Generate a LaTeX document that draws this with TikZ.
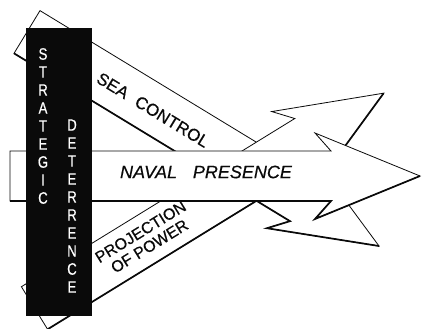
\documentclass[tikz,border=0pt]{standalone}
\usepackage{fontspec}
\setmainfont{Liberation Sans}
\newfontfamily\narrowsf[FakeStretch=0.8, FakeBold=0.6]{Liberation Sans}
\newfontfamily\labelsf[FakeBold=0.4]{Liberation Sans}
\usepackage{tikz}
\usetikzlibrary{calc}
\definecolor{inkblack}{RGB}{10, 10, 10}

% one broad arrow: tail middle (#1,#2), angle #3, length #4
\newcommand{\bandarrow}[4]{%
  \begin{scope}[shift={(#1,#2)}, rotate=#3]
    \filldraw[band] (0,25) -- ({#4-89},25) -- ({#4-105},43) -- (#4,0) -- ({#4-105},-43) -- ({#4-89},-25) -- (0,-25) -- cycle;
    \draw[bandshade] (#4,0) -- ({#4-105},-43) -- ({#4-89},-25) -- (0,-25);
  \end{scope}}

\begin{document}
\begin{tikzpicture}[
        x=1pt, y=1pt,
        band/.style={draw=inkblack, fill=white, line width=0.8pt, line join=miter},
        bandshade/.style={draw=inkblack, line width=1.7pt, line join=miter},
        lbl/.style={text=inkblack, font=\labelsf\fontsize{17}{19}\selectfont, align=center, inner sep=0pt},
        barlbl/.style={text=white, font=\narrowsf\fontsize{16.5}{18}\selectfont, align=center, inner sep=0pt}
    ]
        \useasboundingbox (0,0) rectangle (423,329);

        % the two slanted arrows
        \bandarrow{27}{297}{-31.3}{412}
        \bandarrow{34.5}{21}{31.6}{410}
        \node[lbl, rotate=-31.3] (sea) at (153,219) {SEA\hspace{0.35em} CONTROL};
        \node[lbl, rotate=31.6, font=\labelsf\fontsize{16}{17}\selectfont] (proj) at (145,90) {PROJECTION\\OF POWER};

        % the straight arrow on top
        \bandarrow{10}{153}{0}{410}
        \node[lbl, font=\labelsf\itshape\fontsize{18}{20}\selectfont] (naval) at (206,157) {NAVAL\hspace{0.6em} PRESENCE};

        % black bar
        \fill[inkblack] (26,13) rectangle (92,301);
        \node[barlbl] (strat) at (43,203) {S\\T\\R\\A\\T\\E\\G\\I\\C};
        \node[barlbl] (deter) at (72,123) {D\\E\\T\\E\\R\\R\\E\\N\\C\\E};
    \end{tikzpicture}
\end{document}
